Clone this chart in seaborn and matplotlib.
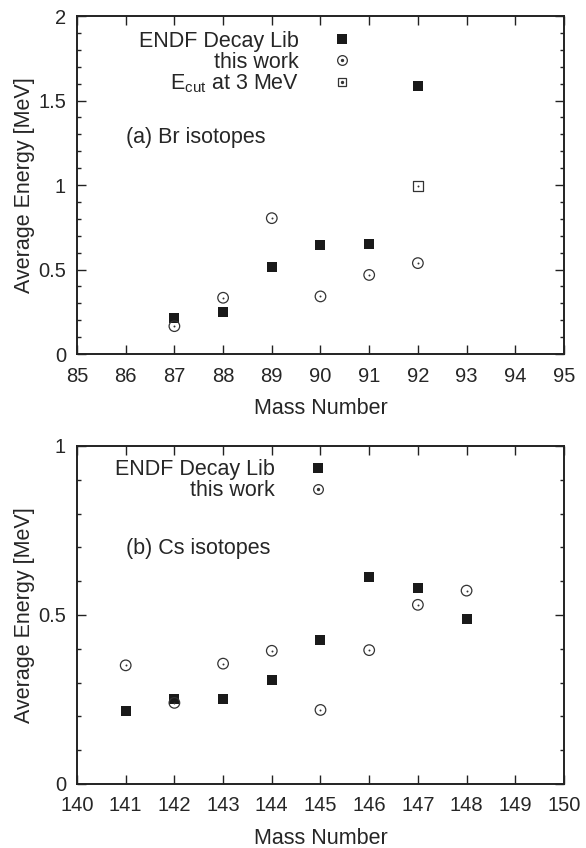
import matplotlib
matplotlib.use('Agg')
import matplotlib.pyplot as plt
from matplotlib.lines import Line2D
from matplotlib.ticker import MultipleLocator
import pandas as pd
import seaborn as sns

# Br isotopes (panel a)
br_mass = [87, 88, 89, 90, 91, 92]
br_endf = [0.214, 0.248, 0.516, 0.645, 0.651, 1.587]
br_this = [0.165, 0.333, 0.804, 0.341, 0.468, 0.538]
br_ecut_mass = [92]
br_ecut = [0.994]

# Cs isotopes (panel b)
cs_mass = [141, 142, 143, 144, 145, 146, 147, 148]
cs_endf = [0.216, 0.251, 0.251, 0.309, 0.426, 0.611, 0.581, 0.488]
cs_this = [0.351, 0.240, 0.356, 0.394, 0.219, 0.396, 0.530, 0.572]

FS = 15.5
TICK_FS = 14.5

sns.set_theme(style='ticks')
plt.rcParams['font.family'] = ['Liberation Sans', 'DejaVu Sans']
plt.rcParams['mathtext.fontset'] = 'custom'
plt.rcParams['mathtext.rm'] = 'Liberation Sans'
plt.rcParams['mathtext.it'] = 'Liberation Sans'


def filled_sq(ax, x, y):
    sns.scatterplot(x=x, y=y, ax=ax, marker='s', s=62, color='#1a1a1a',
                    edgecolor='#1a1a1a', linewidth=0, zorder=3)


def dotted(ax, x, y, marker, s):
    # open marker with a small dot in the middle (gnuplot style)
    sns.scatterplot(x=x, y=y, ax=ax, marker=marker, s=s, facecolor='none',
                    edgecolor='#333333', linewidth=0.9, zorder=3)
    sns.scatterplot(x=x, y=y, ax=ax, marker='o', s=2, color='#333333',
                    linewidth=0, zorder=4)


def style_axes(ax, xlim, ylim, ymajor):
    ax.set_xlim(*xlim)
    ax.set_ylim(*ylim)
    ax.xaxis.set_major_locator(MultipleLocator(1))
    ax.yaxis.set_major_locator(MultipleLocator(ymajor))
    ax.yaxis.set_minor_locator(MultipleLocator(0.1))
    ax.yaxis.set_major_formatter(matplotlib.ticker.FuncFormatter(lambda v, p: f'{v:g}'))
    ax.tick_params(which='both', direction='in', top=True, right=True,
                   width=1.0, color='#222222', labelsize=TICK_FS)
    ax.tick_params(which='major', length=6.3)
    ax.tick_params(which='minor', length=3.2)
    ax.tick_params(axis='x', pad=9)
    ax.tick_params(axis='y', pad=8)
    for sp in ax.spines.values():
        sp.set_linewidth(1.4)
        sp.set_color('#222222')
        sp.set_visible(True)
    ax.set_xlabel('Mass Number', fontsize=FS, labelpad=9)
    ax.set_ylabel('Average Energy [MeV]', fontsize=FS, labelpad=2)


def dot_handle(marker, ms):
    ring = Line2D([], [], ls='none', marker=marker, ms=ms, mfc='none',
                  mec='#333333', mew=0.9)
    dot = Line2D([], [], ls='none', marker='o', ms=1.4, color='#333333')
    return (ring, dot)


sq_handle = Line2D([], [], ls='none', marker='s', ms=7.6, color='#1a1a1a', mew=0)

fig = plt.figure(figsize=(5.86, 8.48), dpi=100)
ax1 = fig.add_axes([0.1314, 0.5825, 0.831, 0.3986])
ax2 = fig.add_axes([0.1314, 0.0755, 0.831, 0.3986])

# panel a
filled_sq(ax1, br_mass, br_endf)
dotted(ax1, br_mass, br_this, 'o', 58)
dotted(ax1, br_ecut_mass, br_ecut, 's', 46)
style_axes(ax1, (85, 95), (0, 2), 0.5)
ax1.text(0.10, 0.642, '(a) Br isotopes', transform=ax1.transAxes,
         fontsize=FS, va='center', ha='left')
ax1.legend([sq_handle, dot_handle('o', 7.0), dot_handle('s', 5.6)],
           ['ENDF Decay Lib', 'this work', r'E$_{\mathrm{cut}}$ at 3 MeV'],
           loc='upper right', bbox_to_anchor=(0.566, 0.957), markerfirst=False,
           frameon=False, fontsize=FS, handlelength=1.0, handletextpad=1.5,
           labelspacing=0.0, borderpad=0, borderaxespad=0)

# panel b
filled_sq(ax2, cs_mass, cs_endf)
dotted(ax2, cs_mass, cs_this, 'o', 58)
style_axes(ax2, (140, 150), (0, 1), 0.5)
ax2.text(0.10, 0.698, '(b) Cs isotopes', transform=ax2.transAxes,
         fontsize=FS, va='center', ha='left')
ax2.legend([sq_handle, dot_handle('o', 7.0)],
           ['ENDF Decay Lib', 'this work'],
           loc='upper right', bbox_to_anchor=(0.516, 0.96), markerfirst=False,
           frameon=False, fontsize=FS, handlelength=1.0, handletextpad=1.5,
           labelspacing=0.0, borderpad=0, borderaxespad=0)

fig.savefig('out.png', dpi=100)
